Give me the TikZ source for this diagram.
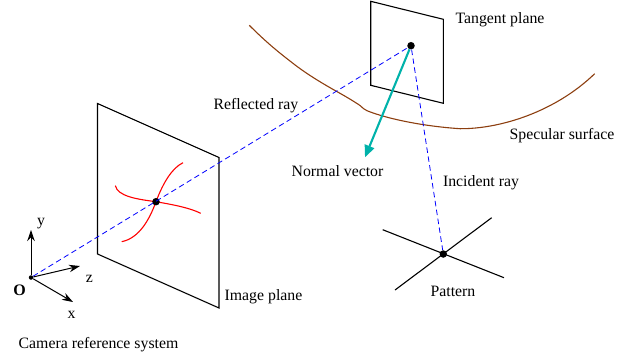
\documentclass[tikz,border=0pt]{standalone}
\usepackage{fontspec}
\setmainfont{Liberation Serif}
\usepackage{tikz}
\usetikzlibrary{arrows.meta, positioning}
\definecolor{surfbrown}{RGB}{140,62,15}
\definecolor{normalteal}{RGB}{0,178,170}

\begin{document}
\begin{tikzpicture}[
  x=1pt, y=-1pt,
  lab/.style={inner sep=0pt, font=\fontsize{15.8}{18}\selectfont},
  dot/.style={circle, fill=black, inner sep=0pt, minimum size=7.5pt},
  plane/.style={draw=black, line width=1.1pt},
  ray/.style={draw=blue, dash pattern=on 5.5pt off 3.5pt, line width=0.8pt},
  axis/.style={-{Stealth[length=11pt, width=7.5pt]}, line width=1pt},
  patline/.style={draw=black, line width=1.1pt},
  redcurve/.style={draw=red, line width=1.1pt}
]
\useasboundingbox (0,0) rectangle (625,360);

\coordinate (yend) at (31,230);
\coordinate (zend) at (80,266);
\coordinate (xend) at (73,302);
\coordinate (i1) at (97.5,103.5);
\coordinate (i2) at (219,157.5);
\coordinate (i3) at (219,308);
\coordinate (i4) at (97.5,254);
\coordinate (t1) at (370.7,1.3);
\coordinate (t2) at (443.3,19.3);
\coordinate (t3) at (443.3,103.3);
\coordinate (t4) at (370.7,85.3);
\coordinate (ntip) at (365,157.3);
\coordinate (p1) at (382.7,229.7);
\coordinate (p2) at (504,277.7);
\coordinate (p3) at (395,290);
\coordinate (p4) at (491.7,217.7);
\coordinate (imgc) at (156,201.7);

% planes
\draw[plane] (i1)--(i2)--(i3)--(i4)--cycle;
\draw[plane] (t1)--(t2)--(t3)--(t4)--cycle;

% surface
\draw[surfbrown, line width=1.1pt] (249.3,25.3) .. controls (265,41) and (277,51) .. (290,61)
  .. controls (305,73) and (320,82) .. (335,90.5)
  .. controls (345,96) and (355,102) .. (360,105.5)
  .. controls (363,108) and (364,109.5) .. (367,110.7)
  .. controls (385,118) and (420,126) .. (460,128.7)
  .. controls (500,129) and (555,112) .. (594.7,73.7);

% image curves
\draw[redcurve] (121.7,241.7) .. controls (140,238) and (150,218) .. (imgc)
  .. controls (163,183) and (172,168) .. (183,162.7);
\draw[redcurve] (115.3,185.7) .. controls (118,196) and (135,199) .. (imgc)
  .. controls (175,205) and (190,208) .. (200.7,213.3);

% pattern
\draw[patline] (p1)--(p2);
\draw[patline] (p3)--(p4);

\node[circle, fill=black, inner sep=0pt, minimum size=4.5pt] (o) at (31,277.5) {};
\node[dot] (img) at (imgc) {};
\node[dot] (tan) at (411,45.7) {};
\node[dot] (pat) at (443.3,254) {};

% rays
\draw[ray] (o)--(tan);
\draw[ray] (tan)--(pat);
\draw[-{Stealth[length=12pt, width=10pt, inset=0pt]}, normalteal, line width=2.1pt] (tan)--(ntip);

% axes
\draw[axis] (o)--(yend);
\draw[axis] (o)--(zend);
\draw[axis] (o)--(xend);

\node[lab] (ylab) at (41,224) {y};
\node[lab] (zlab) at (89.5,279) {z};
\node[lab] (xlab) at (71.5,315) {x};
\node[lab, font=\fontsize{16}{18}\selectfont\bfseries] (olab) at (19.5,290) {O};
\node[lab] (camlab) at (98.5,345) {Camera reference system};
\node[lab] (imglab) at (263.5,297) {Image plane};
\node[lab] (reflab) at (256,105.5) {Reflected ray};
\node[lab] (tanlab) at (500,20) {Tangent plane};
\node[lab] (speclab) at (562,135.5) {Specular surface};
\node[lab] (normlab) at (337.5,171) {Normal vector};
\node[lab] (inclab) at (481,183) {Incident ray};
\node[lab] (patlab) at (453,291) {Pattern};
\end{tikzpicture}
\end{document}
